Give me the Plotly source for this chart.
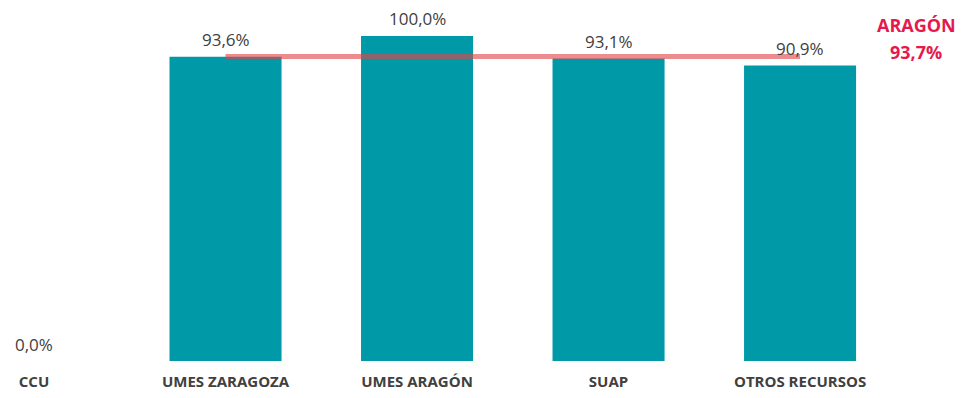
import plotly.graph_objects as go

categories = ["CCU", "UMES ZARAGOZA", "UMES ARAGÓN", "SUAP", "OTROS RECURSOS"]
values = [0.0, 93.6, 100.0, 93.1, 90.9]
value_labels = ["0,0%", "93,6%", "100,0%", "93,1%", "90,9%"]
region_name = "ARAGÓN"
region_value = 93.7
region_label = "93,7%"
line_categories = ["UMES ZARAGOZA", "UMES ARAGÓN", "SUAP", "OTROS RECURSOS"]

FONT = "Open Sans"

fig = go.Figure()
fig.add_trace(go.Bar(
    x=categories, y=values, width=0.585,
    marker=dict(color="#0099A8", line=dict(width=0)),
    hoverinfo="skip",
))
fig.add_trace(go.Scatter(
    x=line_categories, y=[region_value] * len(line_categories),
    mode="lines", line=dict(color="rgba(225,70,75,0.62)", width=5),
    hoverinfo="skip",
))

for c, v, t in zip(categories, values, value_labels):
    fig.add_annotation(x=c, y=v, text=t, showarrow=False, yanchor="middle",
                       yshift=17, font=dict(size=17, color="#404040", family=FONT))

fig.add_annotation(x=4.606, y=103.4, text=f"<b>{region_name}</b>",
                   showarrow=False, yanchor="middle",
                   font=dict(size=18, color="#E5194E", family=FONT))
fig.add_annotation(x=4.606, y=95.1, text=f"<b>{region_label}</b>",
                   showarrow=False, yanchor="middle",
                   font=dict(size=18, color="#E5194E", family=FONT))

fig.update_layout(
    width=956, height=390,
    margin=dict(l=0, r=0, t=0, b=37),
    paper_bgcolor="white", plot_bgcolor="white",
    showlegend=False,
    xaxis=dict(range=[-0.1358, 4.856], showgrid=False, zeroline=False, showline=False,
               ticks="", ticklabelstandoff=10,
               tickfont=dict(size=15, color="#404040", family=FONT, weight="bold")),
    yaxis=dict(range=[0, 108.6], visible=False),
)

fig.write_html("out.html")
